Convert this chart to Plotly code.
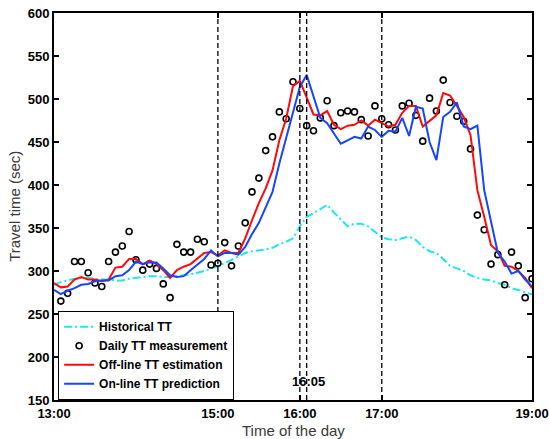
import plotly.graph_objects as go

# time axis: minutes after 13:00, 5-minute steps (0 .. 350)
minutes = [5 * i for i in range(71)]

historical_tt = [284, 287, 289, 291, 292, 292, 291, 290, 290, 289, 289, 291, 292, 293, 294, 294,
                 293, 293, 294, 295, 296, 298, 300, 303, 306, 309, 313, 317, 321, 323, 324, 325,
                 327, 331, 334, 338, 352, 363, 367, 372, 377, 368, 360, 352, 355, 355, 352, 346,
                 339, 337, 336, 338, 340, 336, 328, 323, 321, 314, 306, 303, 300, 295, 292, 290,
                 289, 286, 284, 280, 278, 275, 273]

daily_tt = [None, 265, 274, 311, 311, 298, 286, 282, 311, 322, 329, 346, 313, 301, 308, 303,
            285, 269, 331, 322, 322, 337, 334, 307, 309, 333, 306, 329, 356, 392, 408, 440,
            456, 485, 477, 520, 489, 469, 463, 478, 498, 469, 484, 486, 485, 476, 457, 492,
            477, 470, 464, 492, 495, 481, 451, 501, 486, 522, 496, 480, 474, 442, 365, 348,
            308, 319, 284, 322, 306, 269, 291]

offline_tt = [286, 281, 282, 290, 293, 290, 290, 288, 290, 304, 305, 314, 314, 308, 312, 308,
              301, 292, 301, 305, 308, 314, 321, 322, 318, 324, 321, 321, 338, 359, 379, 396,
              417, 452, 477, 515, 521, 502, 482, 481, 486, 470, 465, 469, 470, 475, 469, 476,
              472, 468, 470, 484, 492, 492, 468, 474, 481, 507, 504, 492, 479, 458, 394, 363,
              330, 323, 306, 305, 300, 292, 280]

online_tt = [278, 273, 277, 280, 284, 285, 288, 289, 289, 294, 295, 301, 311, 308, 310, 310,
             303, 295, 293, 294, 301, 307, 314, 324, 317, 321, 321, 319, 328, 343, 356, 374,
             392, 425, 454, 485, 514, 528, 502, 478, 472, 460, 448, 452, 456, 454, 468, 464,
             456, 463, 462, 478, 457, 491, 489, 450, 429, 479, 485, 496, 468, 465, 469, 394,
             356, 321, 311, 297, 300, 290, 282]

x_tick_vals = [0, 120, 180, 240, 350]
x_tick_text = ["13:00", "15:00", "16:00", "17:00", "19:00"]
y_tick_vals = [150, 200, 250, 300, 350, 400, 450, 500, 550, 600]
marker_lines = [120, 180, 185, 240]
marker_label = "16:05"

FONT = "Liberation Sans, Arial, sans-serif"

fig = go.Figure()
fig.add_trace(go.Scatter(x=minutes, y=historical_tt, mode="lines", name="Historical TT",
                         line=dict(color="#1fe6ec", width=2, dash="8px,3px,2px,3px")))
fig.add_trace(go.Scatter(x=minutes, y=daily_tt, mode="markers", name="Daily TT measurement",
                         marker=dict(symbol="circle-open", size=6, color="black",
                                     line=dict(width=1.6, color="black"))))
fig.add_trace(go.Scatter(x=minutes, y=offline_tt, mode="lines", name="Off-line TT estimation",
                         line=dict(color="#ff0a0a", width=2)))
fig.add_trace(go.Scatter(x=minutes, y=online_tt, mode="lines", name="On-line TT prediction",
                         line=dict(color="#1446ff", width=2)))

for xv in marker_lines:
    fig.add_shape(type="line", xref="x", yref="paper", x0=xv, x1=xv, y0=0, y1=1,
                  line=dict(color="black", width=1.3, dash="5px,3px"), layer="above")

fig.add_annotation(x=185, y=172, xref="x", yref="y", text=marker_label, showarrow=False,
                   font=dict(family=FONT, size=13, color="black", weight="bold"),
                   xanchor="center", yanchor="middle", xshift=2)

fig.add_annotation(x=0.5, y=-0.079, xref="paper", yref="paper", text="Time of the day",
                   showarrow=False, font=dict(family=FONT, size=15, color="#3a3a3a"),
                   xanchor="center", yanchor="middle")
fig.add_annotation(x=-0.083, y=0.5, xref="paper", yref="paper", text="Travel time (sec)",
                   showarrow=False, textangle=-90, font=dict(family=FONT, size=15, color="#3a3a3a"),
                   xanchor="center", yanchor="middle")

axis_common = dict(showline=True, linecolor="black", linewidth=2, mirror="ticks",
                   ticks="inside", ticklen=5, tickwidth=1.5, tickcolor="black",
                   showgrid=False, zeroline=False, automargin=False,
                   tickfont=dict(family=FONT, size=13, color="black", weight="bold"))

fig.update_xaxes(range=[0, 350], tickmode="array", tickvals=x_tick_vals, ticktext=x_tick_text,
                 **axis_common)
fig.update_yaxes(range=[150, 600], tickmode="array", tickvals=y_tick_vals, **axis_common)

fig.update_layout(
    width=549, height=439,
    margin=dict(l=54, r=17, t=13, b=39),
    paper_bgcolor="white", plot_bgcolor="white",
    showlegend=True,
    legend=dict(x=0.008, y=0.0, xanchor="left", yanchor="bottom",
                bgcolor="white", bordercolor="black", borderwidth=1.3,
                font=dict(family=FONT, size=12, color="black", weight="bold"),
                tracegroupgap=0, itemwidth=30),
)

fig.write_html("out.html")
